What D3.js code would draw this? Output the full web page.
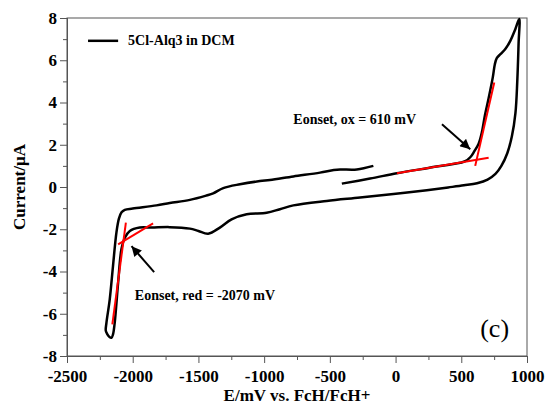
<!DOCTYPE html>
<html>
<head>
<meta charset="utf-8">
<script src="https://cdn.jsdelivr.net/npm/d3@7"></script>
<style>
  body { margin: 0; background: #fff; }
  svg text { font-family: "Liberation Serif", "Times New Roman", serif; }
</style>
</head>
<body>
<div id="chart"></div>
<script>
// cyclic voltammogram, potential (mV vs FcH/FcH+) and current (uA) in scan order
const cvE = [
  -409, -194, 10, 250, 492, 530, 570, 600, 632, 657, 680, 708, 740, 755, 770, 800, 835, 873, 911, 941,
  936, 926, 912, 885, 850, 805, 760, 700, 620, 520, 400, 238, -16, -270, -524, -778, -880, -981,
  -1133, -1248, -1337, -1426, -1500, -1565, -1718, -1857, -1946, -2022, -2060, -2086, -2111, -2137,
  -2150, -2162, -2180, -2195, -2205, -2200, -2175, -2150, -2124, -2105, -2085, -2060, -2000, -1819,
  -1718, -1565, -1438, -1388, -1311, -1184, -1032, -956, -778, -575, -470, -422, -295, -169
];
const cvI = [
  0.16, 0.40, 0.65, 0.90, 1.15, 1.22, 1.42, 1.70, 2.05, 2.60, 3.40, 4.20, 5.20, 5.80, 6.10, 6.30, 6.53, 6.92, 7.47, 7.95,
  6.80, 5.00, 3.50, 2.40, 1.60, 1.00, 0.62, 0.35, 0.18, 0.08, -0.02, -0.15, -0.33, -0.50, -0.66, -0.87, -1.05, -1.22,
  -1.29, -1.53, -1.92, -2.21, -2.08, -1.97, -1.90, -1.92, -1.92, -2.08, -2.40, -2.95, -4.53, -6.43,
  -6.98, -7.14, -7.08, -6.95, -6.80, -6.43, -5.33, -3.74, -2.16, -1.50, -1.20, -1.08, -1.02, -0.87,
  -0.76, -0.61, -0.40, -0.30, -0.05, 0.13, 0.28, 0.33, 0.50, 0.68, 0.80, 0.83, 0.83, 1.00
];

// tangent lines used for the onset estimates
const oxBase = [[10, 0.65], [708, 1.38]];
const oxRise = [[606, 1.0], [751, 4.95]];
const redBase = [[-2111, -2.72], [-1845, -1.72]];
const redRise = [[-2052, -1.69], [-2155, -6.5]];

const xMajor = [-2500, -2000, -1500, -1000, -500, 0, 500, 1000];
const xMinor = [-2250, -1750, -1250, -750, -250, 250, 750];
const yMajor = [-8, -6, -4, -2, 0, 2, 4, 6, 8];
const yMinor = [-7, -5, -3, -1, 1, 3, 5, 7];

const legendLabel = '5Cl-Alq3 in DCM';
const oxLabel = 'Eonset, ox = 610 mV';
const redLabel = 'Eonset, red = -2070 mV';

const width = 547;
const height = 405;
const margin = { top: 18, right: 20, bottom: 49, left: 67 };

const svg = d3.select('#chart')
  .append('svg')
  .attr('width', width)
  .attr('height', height);

const x = d3.scaleLinear().domain([-2500, 1000]).range([margin.left, width - margin.right]);
const y = d3.scaleLinear().domain([-8, 8]).range([height - margin.bottom, margin.top]);

const axisColor = '#555';

// frame
svg.append('rect')
  .attr('x', x(-2500))
  .attr('y', y(8))
  .attr('width', x(1000) - x(-2500))
  .attr('height', y(-8) - y(8))
  .attr('fill', 'none')
  .attr('stroke', axisColor)
  .attr('stroke-width', 1);

function styleAxis(sel) {
  sel.select('.domain').attr('stroke', axisColor);
  sel.selectAll('.tick line').attr('stroke', axisColor);
  sel.selectAll('.tick text')
    .attr('fill', '#000')
    .attr('font-size', 17)
    .attr('font-weight', 'bold')
    .attr('font-family', '"Liberation Serif", serif');
}

svg.append('g')
  .attr('transform', `translate(0,${y(-8)})`)
  .call(d3.axisBottom(x).tickValues(xMinor).tickSize(4).tickFormat(''))
  .call(styleAxis);
svg.append('g')
  .attr('transform', `translate(0,${y(-8)})`)
  .call(d3.axisBottom(x).tickValues(xMajor).tickSize(7).tickPadding(7).tickFormat(d3.format('d')))
  .call(styleAxis);

svg.append('g')
  .attr('transform', `translate(${x(-2500)},0)`)
  .call(d3.axisLeft(y).tickValues(yMinor).tickSize(4).tickFormat(''))
  .call(styleAxis);
svg.append('g')
  .attr('transform', `translate(${x(-2500)},0)`)
  .call(d3.axisLeft(y).tickValues(yMajor).tickSize(7).tickPadding(3).tickFormat(d3.format('d')))
  .call(styleAxis);

// replace the unicode minus d3 uses with a plain hyphen like the original
svg.selectAll('.tick text').text(function() { return d3.select(this).text().replace('\u2212', '-'); });

// axis titles
svg.append('text')
  .attr('x', (x(-2500) + x(1000)) / 2)
  .attr('y', 401)
  .attr('text-anchor', 'middle')
  .attr('font-size', 17)
  .attr('font-weight', 'bold')
  .text('E/mV vs. FcH/FcH+');

svg.append('text')
  .attr('transform', `translate(25,${(y(8) + y(-8)) / 2}) rotate(-90)`)
  .attr('text-anchor', 'middle')
  .attr('font-size', 17)
  .attr('font-weight', 'bold')
  .text('Current/\u03bcA');

// CV trace
const line = d3.line()
  .x(d => x(d[0]))
  .y(d => y(d[1]))
  .curve(d3.curveCatmullRom.alpha(0.5));

const cvData = cvE.map((e, i) => [e, cvI[i]]);

svg.append('path')
  .datum(cvData)
  .attr('d', line)
  .attr('fill', 'none')
  .attr('stroke', '#000')
  .attr('stroke-width', 2.5)
  .attr('stroke-linejoin', 'round');

const straight = d3.line().x(d => x(d[0])).y(d => y(d[1]));
[oxBase, oxRise, redBase, redRise].forEach(seg => {
  svg.append('path')
    .datum(seg)
    .attr('d', straight)
    .attr('stroke', '#ff0000')
    .attr('stroke-width', 2);
});

// legend
svg.append('line')
  .attr('x1', x(-2340)).attr('x2', x(-2111))
  .attr('y1', y(6.92)).attr('y2', y(6.92))
  .attr('stroke', '#000')
  .attr('stroke-width', 2.5);
svg.append('text')
  .attr('x', x(-2035))
  .attr('y', y(6.73))
  .attr('font-size', 14)
  .attr('font-weight', 'bold')
  .text(legendLabel);

// annotations
svg.append('defs').append('marker')
  .attr('id', 'head')
  .attr('viewBox', '0 0 10 10')
  .attr('refX', 10)
  .attr('refY', 5)
  .attr('markerUnits', 'userSpaceOnUse')
  .attr('markerWidth', 11)
  .attr('markerHeight', 10)
  .attr('orient', 'auto')
  .append('path')
  .attr('d', 'M0,0L10,5L0,10Z')
  .attr('fill', '#000');

const arrows = [
  [[353, 2.97], [568, 1.79]],
  [[-1837, -4.03], [-2009, -2.80]]
];
arrows.forEach(a => {
  svg.append('line')
    .attr('x1', x(a[0][0])).attr('y1', y(a[0][1]))
    .attr('x2', x(a[1][0])).attr('y2', y(a[1][1]))
    .attr('stroke', '#000')
    .attr('stroke-width', 2)
    .attr('marker-end', 'url(#head)');
});

svg.append('text')
  .attr('x', x(-778))
  .attr('y', y(2.97))
  .attr('font-size', 14)
  .attr('font-weight', 'bold')
  .text(oxLabel);

svg.append('text')
  .attr('x', x(-1984))
  .attr('y', y(-5.37))
  .attr('font-size', 14)
  .attr('font-weight', 'bold')
  .text(redLabel);

svg.append('text')
  .attr('x', x(644))
  .attr('y', y(-7.12))
  .attr('font-size', 26)
  .text('(c)');
</script>
</body>
</html>
